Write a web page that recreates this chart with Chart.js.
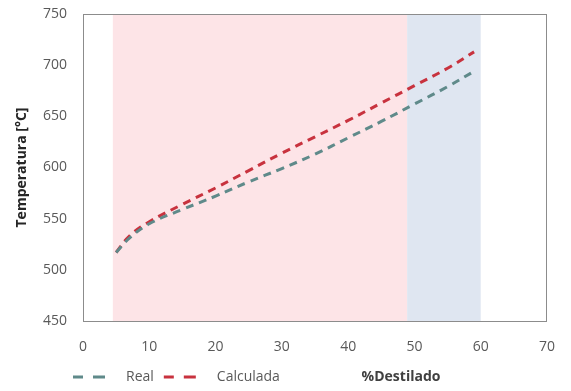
<!DOCTYPE html>
<html>
<head>
<meta charset="utf-8">
<script src="https://cdn.jsdelivr.net/npm/chart.js@4.4.0/dist/chart.umd.min.js"></script>
<style>
  html, body { margin: 0; padding: 0; background: #ffffff; }
  #wrap { width: 571px; height: 391px; position: relative; }
</style>
</head>
<body>
<div id="wrap"><canvas id="c" width="571" height="391"></canvas></div>
<script>
// % destilado (x) and temperatures (°C)
const pctDestilado  = [5, 7, 10, 15, 20, 25, 30, 35, 40, 45, 50, 55, 59];
const tempReal      = [517, 531, 545, 559, 572, 586, 599, 613, 629, 645, 662, 679, 694];
const tempCalculada = [517, 533, 547, 564, 580, 597, 614, 630, 646, 663, 680, 697, 713];

// shaded ranges along %Destilado
const bandRanges = [[4.5, 48.9], [48.9, 60]];
const bandColors = ['#fde4e7', '#dfe6f1'];

const xTicks = [0, 10, 20, 30, 40, 50, 60, 70];
const yTicks = [450, 500, 550, 600, 650, 700, 750];

const seriesColors = ['#5f8a8a', '#c8323e'];

const FONT = '"Open Sans", "Liberation Sans", sans-serif';

const toPoints = (xs, ys) => xs.map((x, i) => ({ x: x, y: ys[i] }));

const bandsPlugin = {
  id: 'bands',
  beforeDatasetsDraw(chart) {
    const { ctx, chartArea, scales } = chart;
    ctx.save();
    bandRanges.forEach((r, i) => {
      const x0 = scales.x.getPixelForValue(r[0]);
      const x1 = scales.x.getPixelForValue(r[1]);
      ctx.fillStyle = bandColors[i];
      ctx.fillRect(x0, chartArea.top, x1 - x0, chartArea.bottom - chartArea.top);
    });
    ctx.restore();
  },
  afterDraw(chart) {
    const { ctx, chartArea } = chart;
    ctx.save();
    ctx.strokeStyle = '#8c8c8c';
    ctx.lineWidth = 1;
    ctx.strokeRect(chartArea.left + 0.5, chartArea.top + 0.5,
                   chartArea.right - chartArea.left - 1, chartArea.bottom - chartArea.top);
    // x-axis title, sharing the legend row
    ctx.fillStyle = '#404040';
    ctx.font = 'bold 14px ' + FONT;
    ctx.textAlign = 'center';
    ctx.textBaseline = 'middle';
    ctx.fillText('%Destilado', 401, 377);
    ctx.restore();
  }
};

// nudge the bottom legend to sit under the left part of the plot
const legendShift = {
  id: 'legendShift',
  afterLayout(chart) {
    const lg = chart.legend;
    if (lg) {
      lg.left += 63; lg.right += 63;
      lg.top += 3; lg.bottom += 3;
    }
  }
};

const lineDash = [8, 6];

new Chart(document.getElementById('c'), {
  type: 'line',
  data: {
    datasets: [
      {
        label: 'Real',
        data: toPoints(pctDestilado, tempReal),
        borderColor: seriesColors[0],
        borderWidth: 3,
        borderDash: lineDash,
        pointRadius: 0,
        tension: 0.4,
        fill: false
      },
      {
        label: 'Calculada',
        data: toPoints(pctDestilado, tempCalculada),
        borderColor: seriesColors[1],
        borderWidth: 3,
        borderDash: lineDash,
        pointRadius: 0,
        tension: 0.4,
        fill: false
      }
    ]
  },
  options: {
    responsive: false,
    animation: false,
    layout: { padding: { left: 0, right: 24, top: 14, bottom: 0 } },
    plugins: {
      legend: {
        position: 'bottom',
        align: 'start',
        labels: {
          usePointStyle: true,
          pointStyle: 'line',
          pointStyleWidth: 46,
          boxHeight: 3,
          padding: 10,
          color: '#595959',
          font: { family: FONT, size: 14 },
          generateLabels: (chart) =>
            Chart.defaults.plugins.legend.labels.generateLabels(chart).map((item, i) =>
              Object.assign(item, {
                pointStyle: 'line',
                lineDash: [10, 10, 12, 14],
                lineWidth: 3,
                strokeStyle: seriesColors[i],
                fillStyle: seriesColors[i]
              }))
        }
      },
      tooltip: { enabled: false }
    },
    scales: {
      x: {
        type: 'linear',
        min: 0, max: 70,
        afterBuildTicks: (s) => { s.ticks = xTicks.map(v => ({ value: v })); },
        afterFit: (s) => { s.height = 36; s.paddingLeft = 0; s.paddingRight = 0; },
        grid: { display: false, drawTicks: false },
        border: { display: false },
        ticks: { color: '#595959', padding: 18, font: { family: FONT, size: 14 } }
      },
      y: {
        min: 450, max: 750,
        afterBuildTicks: (s) => { s.ticks = yTicks.map(v => ({ value: v })); },
        afterFit: (s) => { s.width = 83; s.paddingTop = 0; s.paddingBottom = 0; },
        grid: { display: false, drawTicks: false },
        border: { display: false },
        title: {
          display: true,
          text: 'Temperatura [°C]',
          color: '#262626',
          padding: { top: 14, bottom: 0 },
          font: { family: FONT, size: 14, weight: 'bold' }
        },
        ticks: { color: '#595959', padding: 16, font: { family: FONT, size: 14 } }
      }
    }
  },
  plugins: [bandsPlugin, legendShift]
});
</script>
</body>
</html>
